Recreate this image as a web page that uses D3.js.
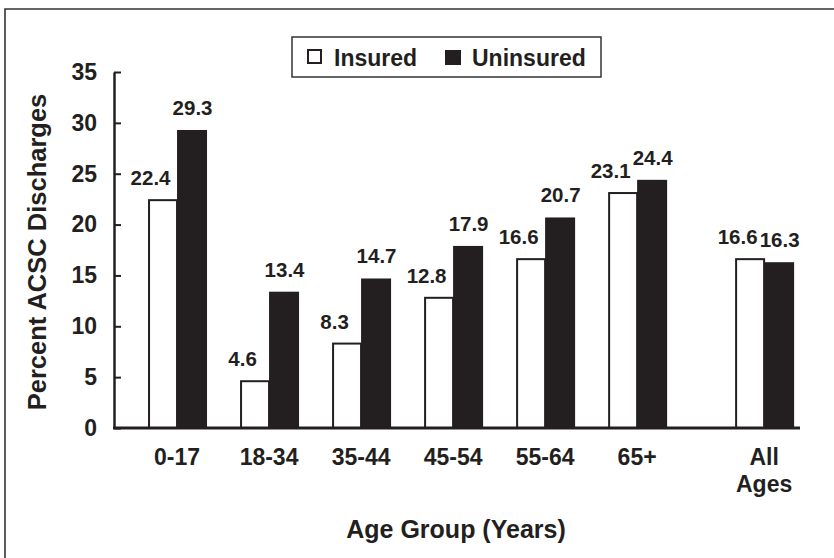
<!DOCTYPE html>
<html>
<head>
<meta charset="utf-8">
<script src="https://cdn.jsdelivr.net/npm/d3@7"></script>
<style>
  html, body { margin: 0; padding: 0; background: #fff; }
  svg text { font-family: "Liberation Sans", Arial, sans-serif; font-weight: bold; fill: #231f20; }
</style>
</head>
<body>
<div id="chart"></div>
<script>
// ---- data ----
const categories = ["0-17", "18-34", "35-44", "45-54", "55-64", "65+", "All Ages"];
const groupPositions = [0, 1, 2, 3, 4, 5, 6.38];
const insured = [22.4, 4.6, 8.3, 12.8, 16.6, 23.1, 16.6];
const uninsured = [29.3, 13.4, 14.7, 17.9, 20.7, 24.4, 16.3];
const yTicks = [0, 5, 10, 15, 20, 25, 30, 35];
const seriesNames = ["Insured", "Uninsured"];

const W = 834, H = 558;
const svg = d3.select("#chart").append("svg").attr("width", W).attr("height", H);

// frame
svg.append("path").attr("d", "M5,560 L5,9 L840,9")
  .attr("fill", "none").attr("stroke", "#333").attr("stroke-width", 1.6);

const x = d3.scaleLinear().domain([-0.685, 6.77]).range([114, 800]);
const y = d3.scaleLinear().domain([0, 35]).range([428, 72]);
const barW = 29;
const ink = "#231f20";

// bars
const groups = svg.append("g");
categories.forEach((c, i) => {
  const cx = x(groupPositions[i]);
  groups.append("rect")
    .attr("x", cx - barW + 1).attr("y", y(insured[i]))
    .attr("width", barW - 1).attr("height", y(0) - y(insured[i]))
    .attr("fill", "#fff").attr("stroke", ink).attr("stroke-width", 2);
  groups.append("rect")
    .attr("x", cx).attr("y", y(uninsured[i]))
    .attr("width", barW + 1).attr("height", y(0) - y(uninsured[i]))
    .attr("fill", ink);
  groups.append("text")
    .attr("x", cx - barW / 2 - 12).attr("y", y(insured[i]) - 15)
    .attr("text-anchor", "middle").attr("font-size", 20.5)
    .text(insured[i].toFixed(1));
  groups.append("text")
    .attr("x", cx + barW / 2 + 1).attr("y", y(uninsured[i]) - 15)
    .attr("text-anchor", "middle").attr("font-size", 20.5)
    .text(uninsured[i].toFixed(1));
  // category label
  const words = c === "All Ages" ? ["All", "Ages"] : [c];
  words.forEach((w, k) => {
    groups.append("text")
      .attr("x", cx).attr("y", 465 + k * 27)
      .attr("text-anchor", "middle").attr("font-size", 23)
      .text(w);
  });
});

// y axis
const yAxis = d3.axisLeft(y).tickValues(yTicks).tickSize(-7).tickPadding(17).tickSizeOuter(0);
const gy = svg.append("g").attr("transform", "translate(114,0)").call(yAxis);
gy.select(".domain").attr("stroke", ink).attr("stroke-width", 2.5);
gy.selectAll(".tick line").attr("stroke", ink).attr("stroke-width", 2);
gy.selectAll(".tick text").attr("font-size", 23).attr("fill", ink)
  .attr("font-family", '"Liberation Sans", Arial, sans-serif').attr("font-weight", "bold");

// x axis line
svg.append("line").attr("x1", 113).attr("x2", 800).attr("y1", y(0)).attr("y2", y(0))
  .attr("stroke", ink).attr("stroke-width", 3);

// axis titles
svg.append("text").attr("x", 456).attr("y", 538).attr("text-anchor", "middle")
  .attr("font-size", 25).text("Age Group (Years)");
svg.append("text").attr("transform", "translate(46,252) rotate(-90)")
  .attr("text-anchor", "middle").attr("font-size", 25.5).text("Percent ACSC Discharges");

// legend
const lg = svg.append("g");
lg.append("rect").attr("x", 292).attr("y", 37).attr("width", 309).attr("height", 40)
  .attr("fill", "#fff").attr("stroke", "#333").attr("stroke-width", 1.5);
const legendX = [307, 445];
seriesNames.forEach((s, i) => {
  lg.append("rect").attr("x", legendX[i] + (i === 0 ? 1 : 0)).attr("y", 50)
    .attr("width", i === 0 ? 13 : 16).attr("height", i === 0 ? 13 : 15)
    .attr("fill", i === 0 ? "#fff" : ink).attr("stroke", i === 0 ? ink : "none").attr("stroke-width", 2);
  lg.append("text").attr("x", legendX[i] + 27).attr("y", 66).attr("font-size", 23).text(s);
});
</script>
</body>
</html>
